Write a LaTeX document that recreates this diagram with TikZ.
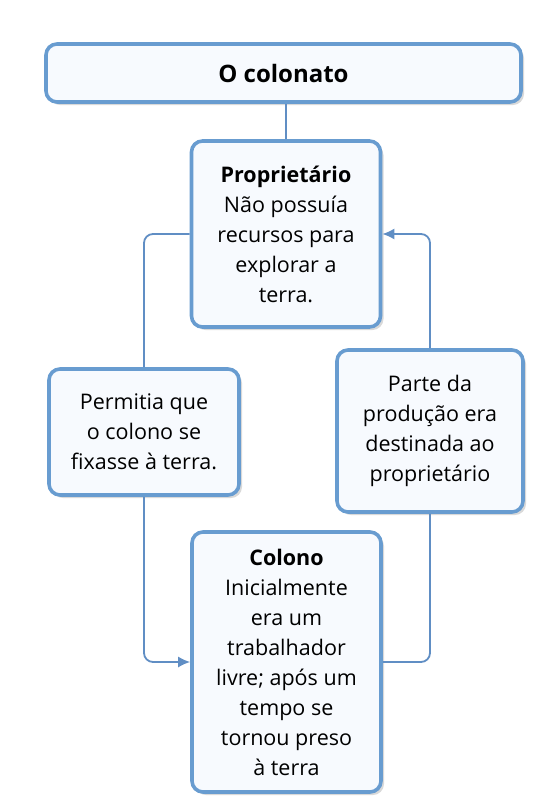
\documentclass[tikz,border=0pt]{standalone}
\usepackage{fontspec}
\setmainfont{Open Sans}
\usetikzlibrary{arrows.meta,shadows}

\definecolor{boxblue}{RGB}{104,156,208}
\definecolor{boxfill}{RGB}{247,250,254}
\definecolor{lineblue}{RGB}{96,142,196}

\tikzset{
  mapbox/.style={draw=boxblue, line width=3.6pt, fill=boxfill, rounded corners=11pt,
    align=center, font=\fontsize{21.5}{30}\selectfont, inner sep=3pt,
    drop shadow={shadow xshift=3pt, shadow yshift=-3pt, opacity=.25, fill=black!60}},
  link/.style={draw=lineblue, line width=1.8pt, rounded corners=9pt}
}

\begin{document}
\begin{tikzpicture} [x=1pt, y=-1pt, >={Latex[length=12pt,width=11pt]}]
	\useasboundingbox (0,0) rectangle (545,812);
	%\draw [thin, help lines] (0,0) grid (545,812);
	\node [mapbox, minimum width=475pt, minimum height=58pt, font=\fontsize{24}{30}\selectfont] (title) at (283.5,73) {\textbf{O colonato}};
	\node [mapbox, minimum width=189pt, minimum height=186pt] (prop) at (286,234)
		{\textbf{Proprietário}\\Não possuía\\recursos para\\explorar a\\terra.};
	\node [mapbox, minimum width=190pt, minimum height=126pt] (perm) at (144,432)
		{Permitia que\\o colono se\\fixasse à terra.};
	\node [mapbox, minimum width=186pt, minimum height=162pt] (parte) at (430,431)
		{Parte da\\produção era\\destinada ao\\proprietário};
	\node [mapbox, minimum width=189pt, minimum height=260pt] (colono) at (286.5,662)
		{\textbf{Colono}\\Inicialmente\\era um\\trabalhador\\livre; após um\\tempo se\\tornou preso\\à terra};

	\draw [link] (prop.north) -- (prop.north |- title.south);
	\draw [link] (prop.west) -| (perm.north);
	\draw [link, ->] (perm.south) |- (colono.west);
	\draw [link] (colono.east) -| (parte.south);
	\draw [link, ->] (parte.north) |- (prop.east);
\end{tikzpicture}
\end{document}
